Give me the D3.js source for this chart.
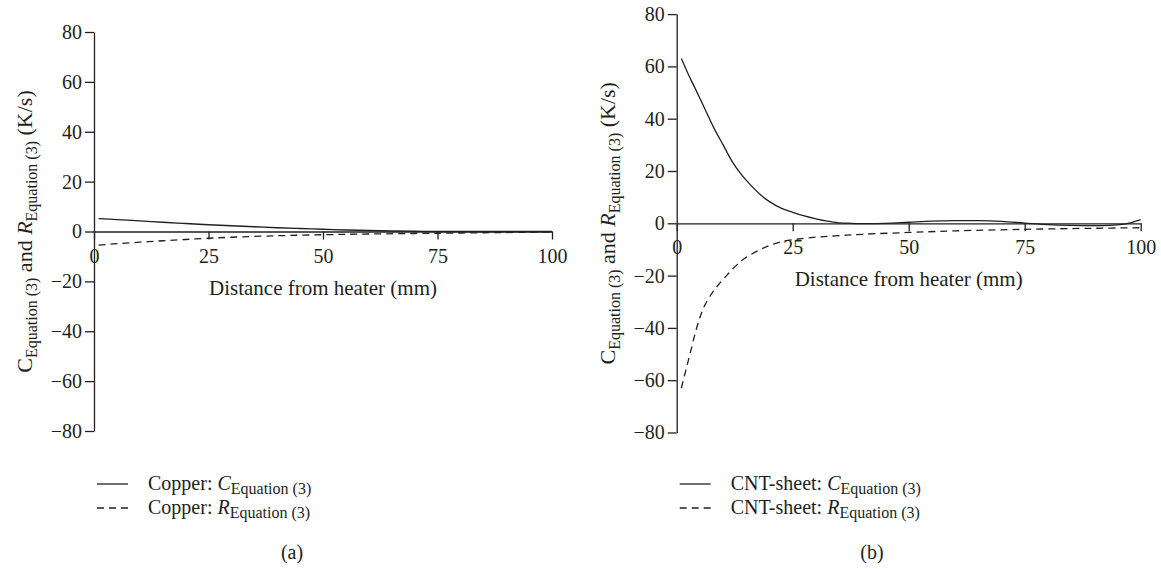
<!DOCTYPE html>
<html>
<head>
<meta charset="utf-8">
<script src="https://cdn.jsdelivr.net/npm/d3@7"></script>
<style>
  body { margin: 0; background: #fff; }
  svg { display: block; }
  svg text { font-family: "Liberation Serif", "DejaVu Serif", serif; }
</style>
</head>
<body>
<div id="chart"></div>
<script>
// distance from heater (mm) and rates (K/s)
const copperCx = [1, 5, 10, 15, 20, 25, 30, 35, 40, 45, 50, 55, 60, 65, 70, 75, 80, 90, 100]
const copperC = [5.2, 4.8, 4.3, 3.7, 3.2, 2.7, 2.3, 1.9, 1.5, 1.2, 0.9, 0.6, 0.4, 0.2, 0.1, 0.0, 0.0, 0.0, 0.0]
const copperRx = [1, 5, 10, 15, 20, 25, 30, 40, 50, 60, 75, 90, 100]
const copperR = [-5.5, -4.9, -4.3, -3.7, -3.2, -2.7, -2.3, -1.7, -1.3, -1.0, -0.7, -0.4, -0.2]

const cntCx = [1, 2.5, 4, 6, 8, 10, 12, 14, 16, 18, 20, 22.5, 25, 27.5, 30, 32.5, 35, 37.5, 40, 45, 50, 55, 60, 65, 70, 75, 80, 85, 90, 95, 98, 100]
const cntC = [63, 57, 51.5, 44, 36.5, 30, 23.5, 18.5, 14.5, 11, 8.3, 5.8, 4.2, 2.8, 1.7, 0.8, 0.2, 0, -0.1, 0, 0.4, 0.8, 1.0, 1.0, 0.7, 0.1, -0.5, -0.8, -0.9, -0.6, 0.3, 1.4]
const cntRx = [1, 2, 3, 4, 5, 6, 7.5, 9, 11, 13, 15, 17.5, 20, 22.5, 25, 30, 35, 40, 50, 60, 75, 90, 100]
const cntR = [-63, -56, -49, -42, -36, -31.5, -27, -23.5, -19.5, -15.8, -13, -10.5, -8.5, -7.1, -6.3, -5.3, -4.7, -4.2, -3.5, -2.9, -2.3, -1.9, -1.7]

const xTicks = [0, 25, 50, 75, 100]
const yTicks = [-80, -60, -40, -20, 0, 20, 40, 60, 80]
const materials = ['Copper', 'CNT-sheet']
const captions = ['(a)', '(b)']

const W = 1161
const H = 569
const ink = '#231f20'

const svg = d3.select('#chart').append('svg')
  .attr('width', W).attr('height', H)
  .style('fill', ink)

const zip = (xs, vs) => xs.map((x, i) => [x, vs[i]])

const panels = [
  { x: [94, 552], y: [431, 32], capX: 292, C: zip(copperCx, copperC), R: zip(copperRx, copperR) },
  { x: [676.7, 1140.7], y: [432.5, 14.1], capX: 872, C: zip(cntCx, cntC), R: zip(cntRx, cntR) }
]

function styleAxis(a) {
  a.attr('font-size', 20)
  a.select('.domain').attr('stroke', ink).attr('stroke-width', 1.3)
  a.selectAll('.tick line').attr('stroke', ink).attr('stroke-width', 1.3)
  a.selectAll('text').attr('fill', ink)
}

panels.forEach((p, i) => {
  const g = svg.append('g')
  const sx = d3.scaleLinear([0, 100], p.x)
  const sy = d3.scaleLinear([-80, 80], p.y)
  const y0 = sy(0)

  // y axis
  const ya = g.append('g')
    .attr('transform', `translate(${p.x[0]},0)`)
    .call(d3.axisLeft(sy).tickValues(yTicks).tickSize(9).tickSizeOuter(0).tickPadding(3))
  styleAxis(ya)

  // x axis along the zero line
  const xa = g.append('g')
    .attr('transform', `translate(0,${y0})`)
    .call(d3.axisBottom(sx).tickValues(xTicks).tickSize(8).tickSizeOuter(0).tickPadding(9))
  styleAxis(xa)

  g.append('text')
    .attr('x', (p.x[0] + p.x[1]) / 2)
    .attr('y', y0 + 63)
    .attr('text-anchor', 'middle')
    .attr('font-size', 21)
    .text('Distance from heater (mm)')

  // rotated y label
  const yl = g.append('text')
    .attr('transform', `translate(${p.x[0] - 62},${y0}) rotate(-90)`)
    .attr('text-anchor', 'middle')
    .attr('font-size', 22)
  yl.append('tspan').text('C')
  yl.append('tspan').attr('font-size', 16).attr('dy', 5).text('Equation (3)')
  yl.append('tspan').attr('dy', -5).text(' and ')
  yl.append('tspan').attr('font-style', 'italic').text('R')
  yl.append('tspan').attr('font-size', 16).attr('dy', 5).text('Equation (3)')
  yl.append('tspan').attr('dy', -5).text(' (K/s)')

  const line = d3.line()
    .x((d) => sx(d[0]))
    .y((d) => sy(d[1]))
    .curve(d3.curveCatmullRom.alpha(0.5))

  g.append('path').datum(p.C)
    .attr('d', line).attr('fill', 'none')
    .attr('stroke', ink).attr('stroke-width', 1.3)
  g.append('path').datum(p.R)
    .attr('d', line).attr('fill', 'none')
    .attr('stroke', ink).attr('stroke-width', 1.3)
    .attr('stroke-dasharray', '7,5')

  // legend
  const lx = p.x[0] + 3
  const rows = [
    { sym: 'C', dash: null, y: 484 },
    { sym: 'R', dash: '7,5', y: 508 }
  ]
  rows.forEach((r) => {
    g.append('line')
      .attr('x1', lx).attr('x2', lx + 31)
      .attr('y1', r.y).attr('y2', r.y)
      .attr('stroke', ink).attr('stroke-width', 1.3)
      .attr('stroke-dasharray', r.dash)
    const t = g.append('text')
      .attr('x', lx + 51).attr('y', r.y + 6)
      .attr('font-size', 20)
    t.append('tspan').text(materials[i] + ': ')
    t.append('tspan').attr('font-style', 'italic').text(r.sym)
    t.append('tspan').attr('font-size', 16).attr('dy', 4).text('Equation (3)')
  })

  g.append('text')
    .attr('x', p.capX).attr('y', 559)
    .attr('text-anchor', 'middle')
    .attr('font-size', 20)
    .text(captions[i])
})
</script>
</body>
</html>
